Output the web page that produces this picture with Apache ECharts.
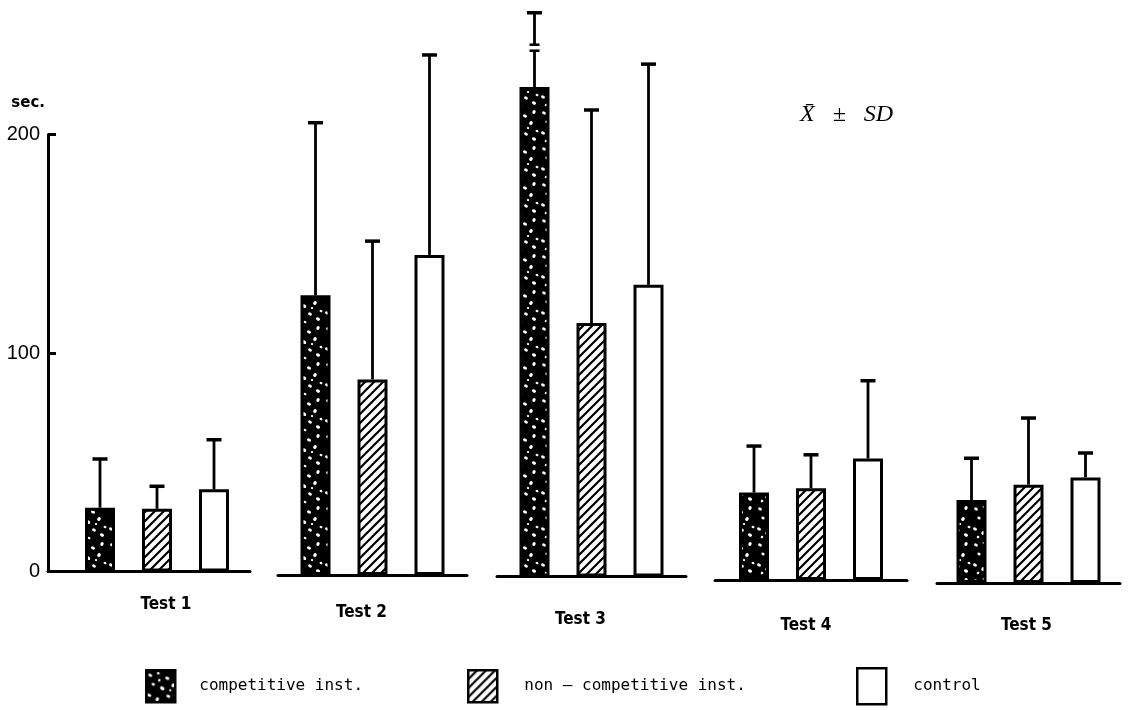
<!DOCTYPE html>
<html>
<head>
<meta charset="utf-8">
<script src="https://cdn.jsdelivr.net/npm/echarts@6/dist/echarts.min.js"></script>
<style>
  html, body { margin: 0; padding: 0; background: #fff; }
  #chart { width: 1132px; height: 710px; }
</style>
</head>
<body>
<div id="chart"></div>
<script>
// ---- data: mean and SD (sec.) per test and condition ----
const tests = ['Test 1', 'Test 2', 'Test 3', 'Test 4', 'Test 5'];
const groups = ['competitive inst.', 'non – competitive inst.', 'control'];
const competitiveMean = [29.2, 128.0, 224.0, 40.0, 38.0];
const competitiveSD = [22.3, 79.0, 34.0, 21.3, 19.1];
const nonCompetitiveMean = [28.7, 89.5, 116.0, 42.0, 45.0];
const nonCompetitiveSD = [10.3, 63.3, 97.5, 15.3, 30.5];
const controlMean = [37.6, 146.5, 133.5, 55.6, 48.3];
const controlSD = [22.7, 91.5, 101.0, 35.6, 11.2];
// whisker drawn with a break at this value (sec.), null = unbroken
const competitiveSDBreak = [null, null, 242, null, null];
const yAxisMax = 200;
const yAxisStep = 100;

const means = [competitiveMean, nonCompetitiveMean, controlMean];
const sds = [competitiveSD, nonCompetitiveSD, controlSD];
const breaks = [competitiveSDBreak, [], []];

// ---- layout ----
const H = 710;
const PX_PER_UNIT = 2.185;
const PANEL_MAX = 260;                           // value range of each test panel
const baselines = [571.5, 575, 576.5, 580, 583];  // baseline of each test panel (px from top)
const spans = [[64, 250], [278, 467], [497, 686], [715, 907], [937, 1120]];
const labelMargins = [25, 29, 35, 37, 34];
// horizontal nudge of each test label: [left pad, right pad]
const labelPads = [[18, 0], [0, 22], [0, 22], [0, 10], [0, 4]];
const BAR_W = 30;
const BAR_STEP = 57;                             // centre-to-centre bar spacing
const INK = '#000';

// ---- fills ----
function speckleFill() {
  const c = document.createElement('canvas');
  c.width = 36; c.height = 36;
  const g = c.getContext('2d');
  g.fillStyle = '#000';
  g.fillRect(0, 0, 36, 36);
  g.fillStyle = '#fff';
  const dots = [[4,5,2.0,1.4],[12,3,1.5,1.2],[21,8,2.2,1.5],[30,4,1.6,2.0],[7,14,1.8,1.3],
    [16,18,2.4,1.7],[27,15,1.7,2.1],[33,23,1.5,1.2],[3,25,2.1,1.5],[11,29,1.6,2.0],
    [22,26,2.0,1.4],[30,31,2.2,1.6],[17,34,1.5,1.1],[6,33,1.3,1.3],[24,20,1.2,1.0],[13,10,1.2,1.4]];
  dots.forEach(function (d) {
    g.beginPath(); g.ellipse(d[0], d[1], d[2], d[3], 0.5, 0, Math.PI * 2); g.fill();
  });
  return { image: c, repeat: 'repeat' };
}
function hatchFill() {
  const s = 9;
  const c = document.createElement('canvas');
  c.width = s; c.height = s;
  const g = c.getContext('2d');
  g.fillStyle = '#fff';
  g.fillRect(0, 0, s, s);
  g.strokeStyle = '#000';
  g.lineWidth = 2.2;
  g.beginPath();
  g.moveTo(-1, s + 1); g.lineTo(s + 1, -1);
  g.moveTo(-1, 1); g.lineTo(1, -1);
  g.moveTo(s - 1, s + 1); g.lineTo(s + 1, s - 1);
  g.stroke();
  return { image: c, repeat: 'repeat' };
}
const fills = [speckleFill(), hatchFill(), '#fff'];

// ---- grids and axes ----
const grids = [{
  left: 48, width: spans[0][0] - 48,
  bottom: H - baselines[0], height: yAxisMax * PX_PER_UNIT,
  containLabel: false, outerBoundsMode: 'none'
}];
const xAxes = [{
  gridIndex: 0, type: 'category', data: [''],
  axisLine: { lineStyle: { color: INK, width: 3 } },
  axisTick: { show: false }, axisLabel: { show: false }
}];
const yAxes = [{
  gridIndex: 0, type: 'value', min: 0, max: yAxisMax, interval: yAxisStep,
  name: 'sec.', nameLocation: 'end', nameGap: 24,
  nameTextStyle: { align: 'right', padding: [0, 3, 0, 0], color: INK,
    fontFamily: 'DejaVu Sans', fontWeight: 'bold', fontSize: 15 },
  axisLine: { show: true, lineStyle: { color: INK, width: 3 } },
  axisTick: { show: true, inside: true, length: 8, lineStyle: { color: INK, width: 3 } },
  axisLabel: { margin: 8, color: INK, fontFamily: 'Liberation Sans', fontSize: 20 },
  splitLine: { show: false }
}];

tests.forEach(function (t, i) {
  grids.push({
    left: spans[i][0], width: spans[i][1] - spans[i][0],
    bottom: H - baselines[i], height: PANEL_MAX * PX_PER_UNIT,
    containLabel: false, outerBoundsMode: 'none'
  });
  xAxes.push({
    gridIndex: i + 1, type: 'category', data: [t],
    axisLine: { lineStyle: { color: INK, width: 3 } },
    axisTick: { show: false },
    axisLabel: { margin: labelMargins[i], color: INK, fontSize: 17, fontWeight: 'bold',
      fontFamily: 'DejaVu Sans Condensed, DejaVu Sans',
      padding: [0, labelPads[i][1], 0, labelPads[i][0]] }
  });
  yAxes.push({
    gridIndex: i + 1, type: 'value', min: 0, max: PANEL_MAX, show: false
  });
});

// ---- series ----
function whisker(params, api) {
  const g = api.value(3);
  const cat = api.value(0);
  const base = api.coord([cat, api.value(1)]);
  const tip = api.coord([cat, api.value(2)]);
  const x = base[0] + (g - 1) * BAR_STEP;
  const brk = api.value(4);
  const seg = function (x1, y1, x2, y2, w) {
    return { type: 'line', shape: { x1: x1, y1: y1, x2: x2, y2: y2 },
      style: { stroke: INK, lineWidth: w } };
  };
  const kids = [];
  if (isFinite(brk) && brk > 0) {
    const yb = api.coord([cat, brk])[1];
    kids.push(seg(x, base[1], x, yb + 3, 2.8));
    kids.push(seg(x - 5, yb + 3, x + 5, yb + 3, 2.6));
    kids.push(seg(x, yb - 3, x, tip[1], 2.8));
    kids.push(seg(x - 5, yb - 3, x + 5, yb - 3, 2.6));
  } else {
    kids.push(seg(x, base[1], x, tip[1], 2.8));
  }
  kids.push(seg(x - 7.5, tip[1], x + 7.5, tip[1], 3.5));
  return { type: 'group', children: kids };
}

const series = [];
tests.forEach(function (t, i) {
  groups.forEach(function (name, g) {
    series.push({
      type: 'bar', name: name,
      xAxisIndex: i + 1, yAxisIndex: i + 1,
      barWidth: BAR_W, barGap: ((BAR_STEP - BAR_W) / BAR_W * 100) + '%',
      data: [means[g][i]],
      itemStyle: { color: fills[g], borderColor: INK, borderWidth: 3 },
      emphasis: { disabled: true },
      z: 2
    });
  });
  series.push({
    type: 'custom', name: 'SD ' + t,
    xAxisIndex: i + 1, yAxisIndex: i + 1,
    renderItem: whisker, clip: false, z: 3,
    encode: { x: 0, y: [1, 2] },
    data: groups.map(function (name, g) {
      const b = breaks[g][i];
      return [t, means[g][i], means[g][i] + sds[g][i], g, b == null ? 0 : b];
    })
  });
});

// ---- legend ----
const legendText = { color: INK, fontSize: 16, fontFamily: 'DejaVu Sans Mono' };
function legendAt(name, left, gap, h) {
  return {
    data: [{ name: name, icon: 'rect' }], left: left, top: 680 - h / 2,
    itemWidth: 29, itemHeight: h,
    itemStyle: { borderColor: INK, borderWidth: 2.5 },
    textStyle: Object.assign({ padding: [0, 0, 0, gap] }, legendText),
    selectedMode: false
  };
}

const chart = echarts.init(document.getElementById('chart'), null, { renderer: 'canvas' });
chart.setOption({
  animation: false,
  backgroundColor: '#fff',
  title: {
    text: 'X\u0304   \u00b1   SD', left: 795, top: 98,
    textStyle: { color: INK, fontFamily: 'Liberation Serif', fontStyle: 'italic',
      fontWeight: 'normal', fontSize: 24 }
  },
  legend: [
    legendAt(groups[0], 140, 19, 32),
    legendAt(groups[1], 462, 22, 32),
    legendAt(groups[2], 851, 22, 36)
  ],
  grid: grids,
  xAxis: xAxes,
  yAxis: yAxes,
  series: series
});
</script>
</body>
</html>
